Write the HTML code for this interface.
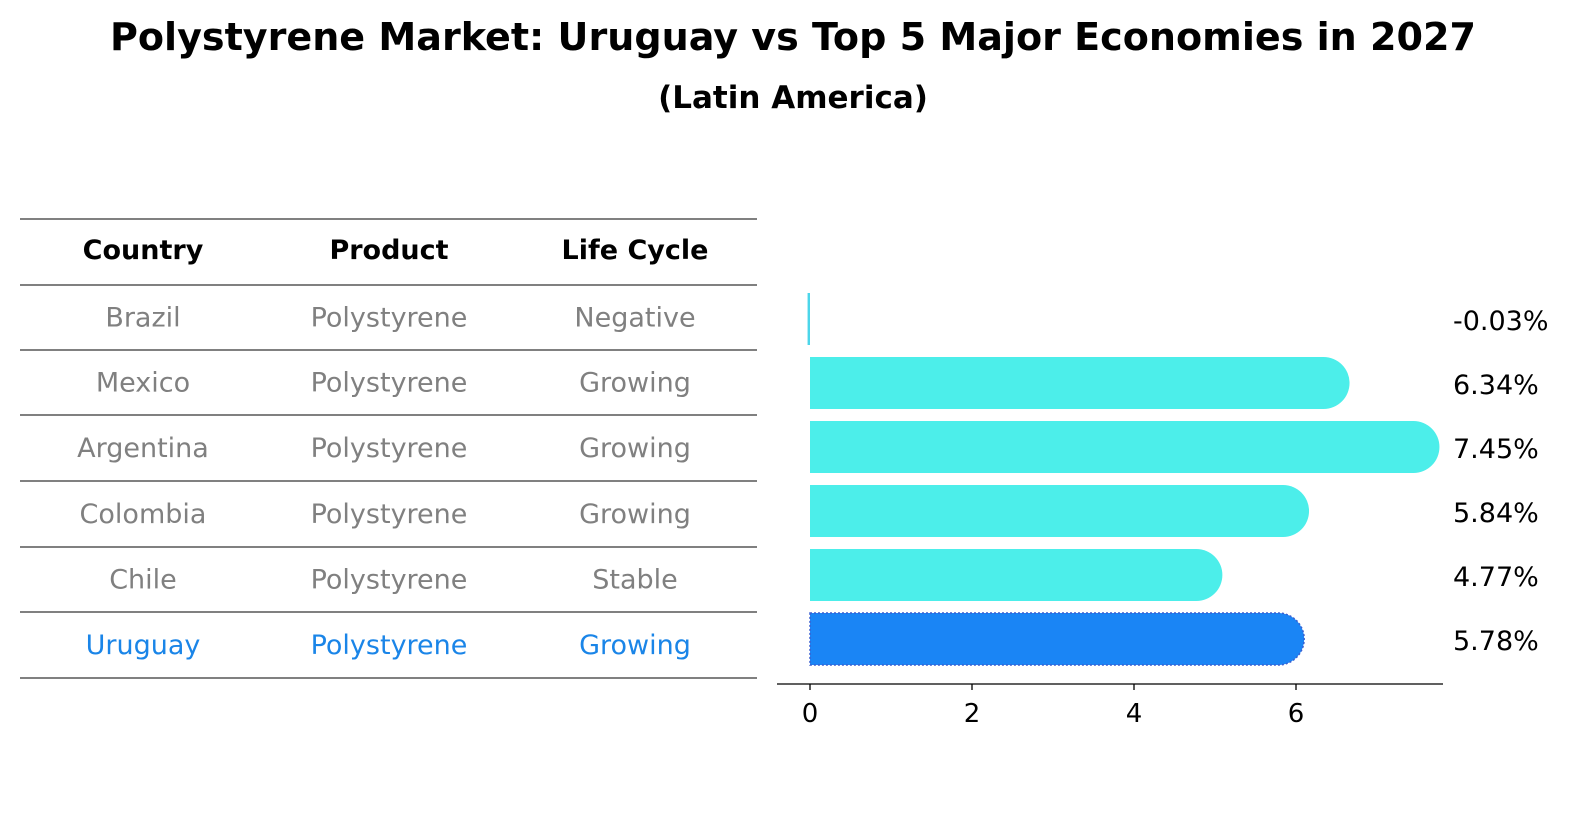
<!DOCTYPE html>
<html><head><meta charset="utf-8"><style>
html,body{margin:0;padding:0;background:#fff;overflow:hidden;width:1596px;height:823px;}
svg{display:block;}
svg text{font-family:"DejaVu Sans","Liberation Sans",sans-serif;}
</style></head><body>
<svg width="1596" height="823" xmlns="http://www.w3.org/2000/svg">
<text x="793" y="50" text-anchor="middle" font-size="38" font-weight="bold" textLength="1366" lengthAdjust="spacingAndGlyphs">Polystyrene Market: Uruguay vs Top 5 Major Economies in 2027</text>
<text x="793" y="108" text-anchor="middle" font-size="31" font-weight="bold">(Latin America)</text>
<g id="table"></g>
<g id="bars"></g>
</svg>
<script>
const countries=["Brazil","Mexico","Argentina","Colombia","Chile","Uruguay"];
const products=["Polystyrene","Polystyrene","Polystyrene","Polystyrene","Polystyrene","Polystyrene"];
const lifeCycles=["Negative","Growing","Growing","Growing","Stable","Growing"];
const growth=[-0.03,6.34,7.45,5.84,4.77,5.78];
const valueLabels=["-0.03%","6.34%","7.45%","5.84%","4.77%","5.78%"];
const xTicks=[0,2,4,6];
const NS="http://www.w3.org/2000/svg";
function mk(tag,attrs,parent,txt){const e=document.createElementNS(NS,tag);for(const k in attrs)e.setAttribute(k,attrs[k]);if(txt!==undefined)e.textContent=txt;parent.appendChild(e);return e;}
const tbl=document.getElementById('table');
const lineYs=[219,285,350,415,481,547,612,678];
const colX=[143,389,635];
lineYs.forEach((y,i)=>{const l=mk('line',{x1:20,x2:757,y1:y,y2:y,stroke:'#000','stroke-width':1},tbl);

});
["Country","Product","Life Cycle"].forEach((h,i)=>{const t=mk('text',{x:colX[i],y:259,'text-anchor':'middle','font-size':27,'font-weight':'bold'},tbl,h);

});
countries.forEach((c,r)=>{const y=(lineYs[r+1]+lineYs[r+2])/2+9;const col=r===countries.length-1?'#1a85e8':'#808080';
[c,products[r],lifeCycles[r]].forEach((v,i)=>{const t=mk('text',{x:colX[i],y:y,'text-anchor':'middle','font-size':27,fill:col},tbl,v);

});});
const g=document.getElementById('bars');
const x0=810,ppu=81;const X=v=>x0+v*ppu;
const Y=i=>319+i*64;const h=52,r=26;
growth.forEach((v,i)=>{const cy=Y(i),top=cy-h/2;const last=i===growth.length-1;const fill=last?'#1a85f5':'#4ceeea';
let e;
if(Math.abs(v)<0.5){e=mk('rect',{x:Math.min(X(0),X(v)),y:top,width:Math.max(1.5,Math.abs(X(v)-X(0))),height:h,fill:'#4cd6ea'},g);}
else{const xe=X(v);e=mk('path',{d:`M${X(0)},${top} H${xe} A${r},${r} 0 0 1 ${xe},${top+h} H${X(0)} Z`,fill:fill,stroke:last?'#3a5fd0':'none','stroke-width':last?1.5:0,'stroke-dasharray':'2,2'},g);}


const t=mk('text',{x:1453,y:cy+11,'font-size':27},g,valueLabels[i]);

});
const ax=mk('line',{x1:777,x2:1443,y1:684,y2:684,stroke:'#000','stroke-width':1.3},g);


xTicks.forEach(v=>{const tk=mk('line',{x1:X(v),x2:X(v),y1:684,y2:690,stroke:'#000','stroke-width':1.3},g);


const t=mk('text',{x:X(v),y:722,'text-anchor':'middle','font-size':26},g,String(v));

});
</script>
</body></html>
